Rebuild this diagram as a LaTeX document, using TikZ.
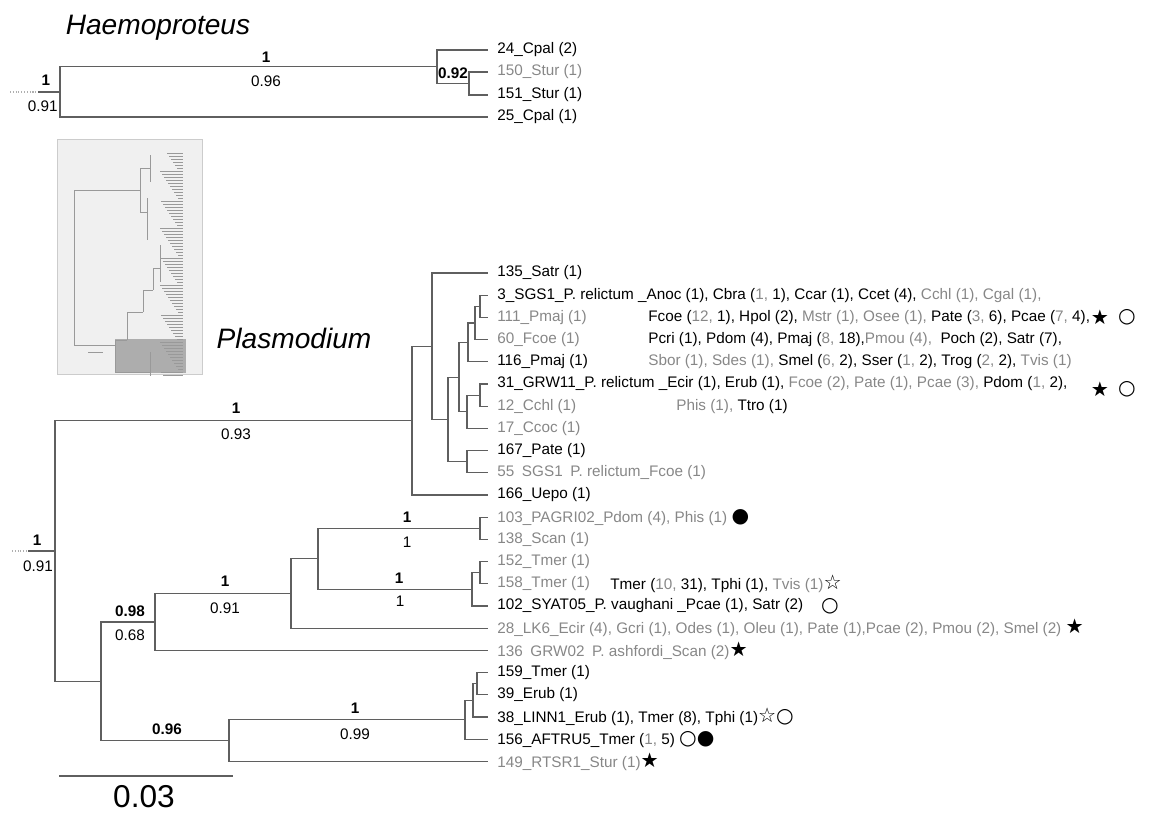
\documentclass[tikz,border=0pt]{standalone}
\usepackage{fontspec}
\setmainfont{Liberation Sans}
\newfontfamily\symfont{DejaVu Sans}
\usetikzlibrary{positioning}
\definecolor{branchgray}{RGB}{95,95,95}
\definecolor{tipgray}{RGB}{135,135,135}
\newcommand{\gtx}[1]{\textcolor{tipgray}{#1}}
\newcommand{\mksym}[1]{{\symfont\fontsize{11.5}{10}\selectfont #1}}

\begin{document}
\begin{tikzpicture}[x=0.02cm, y=-0.02cm,
    branch/.style={draw=branchgray, line width=0.6pt},
    stub/.style={draw=branchgray!50, line width=0.6pt, densely dotted},
    tip/.style={anchor=west, inner sep=0pt, font=\fontsize{8.7}{10}\selectfont},
    supp/.style={inner sep=0pt, font=\fontsize{8.7}{10}\selectfont\bfseries},
    post/.style={inner sep=0pt, font=\fontsize{8.7}{10}\selectfont},
    genus/.style={inner sep=0pt, font=\fontsize{16}{18}\selectfont\itshape},
    symb/.style={inner sep=0pt, font=\symfont\fontsize{11.5}{10}\selectfont},
    mini/.style={draw=black!40, line width=0.2pt}]
    \useasboundingbox (0,0) rectangle (1150,816);

    % Haemoproteus tree
    \node[genus] (haem) at (158,28) {Haemoproteus};
    \coordinate (hstub) at (10,92);
    \coordinate (hstubend) at (38,92);
    \coordinate (hroot) at (60,92);
    \coordinate (hclade) at (437,66.5);
    \coordinate (hstur) at (469,83.5);
    \coordinate (t24) at (488,50);
    \coordinate (t150) at (488,72);
    \coordinate (t151) at (488,95);
    \coordinate (t25) at (488,117);
    \draw[stub] (hstub) -- (hstubend);
    \draw[branch] (hstubend) -- (hroot);
    \draw[branch] (hroot) |- (hclade) (hroot) |- (t25);
    \draw[branch] (hclade) |- (t24) (hclade) |- (hstur);
    \draw[branch] (hstur) |- (t150) (hstur) |- (t151);
    \node[tip, right=0.18cm of t24] (l24) {24\_Cpal (2)};
    \node[tip, right=0.18cm of t150] (l150) {\gtx{150\_Stur (1)}};
    \node[tip, right=0.18cm of t151] (l151) {151\_Stur (1)};
    \node[tip, right=0.18cm of t25] (l25) {25\_Cpal (1)};
    \node[supp] (s1) at (266,57) {1};
    \node[post] (p1) at (266,81) {0.96};
    \node[supp] (s2) at (46,80) {1};
    \node[post, anchor=east] (p2) at (58,106) {0.91};
    \node[supp] (s3) at (453,73) {0.92};

    % overview thumbnail
    \draw[draw=black!20, fill=black!6] (57,139) rectangle (202,374);
    \fill[black!32] (115,339) rectangle (186,373);
    \draw[mini] (74,190) -- (74,345) (74,190) -- (140,190) (140,168) -- (140,212);
    \draw[mini] (140,168) -- (150,168) (150,155) -- (150,182) (140,212) -- (147,212) (147,198) -- (147,240);
    \draw[mini] (74,345) -- (115,345) (115,340) -- (115,372) (115,340) -- (127,340) (127,312) -- (127,340);
    \draw[mini] (127,312) -- (143,312) (143,290) -- (143,312) (143,290) -- (153,290) (153,268) -- (153,290);
    \draw[mini] (153,268) -- (160,268) (160,245) -- (160,282) (115,372) -- (150,372) (150,352) -- (150,376);
    \foreach \yy in {153,156,...,375} {
      \pgfmathsetmacro\xx{160+mod(\yy*7,19)}
      \draw[mini] (\xx,\yy) -- (183,\yy);
    }
    \draw[mini] (88,352) -- (103,352);

    % Plasmodium tree
    \node[genus] (plas) at (294,338) {Plasmodium};
    \coordinate (pstub) at (12,551);
    \coordinate (pstubend) at (28,551);
    \coordinate (proot) at (55,551);
    \coordinate (prel) at (412,420.6);
    \coordinate (psatr) at (432,346.2);
    \coordinate (pmid) at (448,419.4);
    \coordinate (pgrp) at (459,377.1);
    \coordinate (pc) at (468,342.4);
    \coordinate (pb) at (475,323);
    \coordinate (pa) at (480,306.3);
    \coordinate (pg2) at (467,411.8);
    \coordinate (pg2a) at (480,395.1);
    \coordinate (pf) at (467,461.7);
    \coordinate (plow) at (101,681.3);
    \coordinate (pgroup) at (155,622);
    \coordinate (ps) at (291,593.5);
    \coordinate (pr) at (318,558.8);
    \coordinate (pp) at (480,528.3);
    \coordinate (pq) at (472,589.4);
    \coordinate (pqa) at (480,572.7);
    \coordinate (pu) at (229,740.6);
    \coordinate (pu2) at (465,719.8);
    \coordinate (pu3) at (473,700.4);
    \coordinate (pu4) at (477,683.7);
    \coordinate (t135) at (488,273);
    \coordinate (t3) at (488,295.2);
    \coordinate (t111) at (488,317.4);
    \coordinate (t60) at (488,339.6);
    \coordinate (t116) at (488,361.8);
    \coordinate (t31) at (488,384);
    \coordinate (t12) at (488,406.2);
    \coordinate (t17) at (488,428.4);
    \coordinate (t167) at (488,450.6);
    \coordinate (t55) at (488,472.8);
    \coordinate (t166) at (488,495);
    \coordinate (t103) at (488,517.2);
    \coordinate (t138) at (488,539.4);
    \coordinate (t152) at (488,561.6);
    \coordinate (t158) at (488,583.8);
    \coordinate (t102) at (488,606);
    \coordinate (t28) at (488,628.2);
    \coordinate (t136) at (488,650.4);
    \coordinate (t159) at (488,672.6);
    \coordinate (t39) at (488,694.8);
    \coordinate (t38) at (488,717);
    \coordinate (t156) at (488,739.2);
    \coordinate (t149) at (488,761.4);

    % Branches
    \draw[stub] (pstub) -- (pstubend);
    \draw[branch] (pstubend) -- (proot);
    \draw[branch] (proot) |- (prel) (proot) |- (plow);
    \draw[branch] (prel) |- (psatr) (prel) |- (t166);
    \draw[branch] (psatr) |- (t135) (psatr) |- (pmid);
    \draw[branch] (pmid) |- (pgrp) (pmid) |- (pf);
    \draw[branch] (pgrp) |- (pc) (pgrp) |- (pg2);
    \draw[branch] (pc) |- (pb) (pc) |- (t116);
    \draw[branch] (pb) |- (pa) (pb) |- (t60);
    \draw[branch] (pa) |- (t3) (pa) |- (t111);
    \draw[branch] (pg2) |- (pg2a) (pg2) |- (t17);
    \draw[branch] (pg2a) |- (t31) (pg2a) |- (t12);
    \draw[branch] (pf) |- (t167) (pf) |- (t55);
    \draw[branch] (plow) |- (pgroup) (plow) |- (pu);
    \draw[branch] (pgroup) |- (ps) (pgroup) |- (t136);
    \draw[branch] (ps) |- (pr) (ps) |- (t28);
    \draw[branch] (pr) |- (pp) (pr) |- (pq);
    \draw[branch] (pp) |- (t103) (pp) |- (t138);
    \draw[branch] (pq) |- (pqa) (pq) |- (t102);
    \draw[branch] (pqa) |- (t152) (pqa) |- (t158);
    \draw[branch] (pu) |- (pu2) (pu) |- (t149);
    \draw[branch] (pu2) |- (pu3) (pu2) |- (t156);
    \draw[branch] (pu3) |- (pu4) (pu3) |- (t38);
    \draw[branch] (pu4) |- (t159) (pu4) |- (t39);

    % Support values
    \node[supp] (s4) at (236,408) {1};
    \node[post] (p4) at (236,434) {0.93};
    \node[supp] (s5) at (37,540) {1};
    \node[post] (p5) at (38,566) {0.91};
    \node[supp] (s6) at (130,611) {0.98};
    \node[post] (p6) at (130,635) {0.68};
    \node[supp] (s7) at (225,581) {1};
    \node[post] (p7) at (225,608) {0.91};
    \node[supp] (s8) at (407,517) {1};
    \node[post] (p8) at (407,542) {1};
    \node[supp] (s9) at (399,578) {1};
    \node[post] (p9) at (400,601) {1};
    \node[supp] (s10) at (167,729) {0.96};
    \node[supp] (s11) at (355,708) {1};
    \node[post] (p11) at (355,734) {0.99};

    % Tip labels
    \node[tip, right=0.18cm of t135] (l135) {135\_Satr (1)};
    \node[tip, right=0.18cm of t3] (l3) {3\_SGS1\_P. relictum \_Anoc (1), Cbra (\gtx{1,} 1), Ccar (1), Ccet (4), \gtx{Cchl (1), Cgal (1),}};
    \node[tip, right=0.18cm of t111] (l111) {\gtx{111\_Pmaj (1)}};
    \node[tip] (c111) at (648,317.4) {Fcoe (\gtx{12,} 1), Hpol (2), \gtx{Mstr (1), Osee (1),} Pate (\gtx{3,} 6), Pcae (\gtx{7,} 4),};
    \node[tip, right=0.18cm of t60] (l60) {\gtx{60\_Fcoe (1)}};
    \node[tip] (c60) at (648,339.6) {Pcri (1), Pdom (4), Pmaj (\gtx{8,} 18),\gtx{Pmou (4),}\ \ Poch (2), Satr (7),};
    \node[tip, right=0.18cm of t116] (l116) {116\_Pmaj (1)};
    \node[tip] (c116) at (648,361.8) {\gtx{Sbor (1), Sdes (1),} Smel (\gtx{6,} 2), Sser (\gtx{1,} 2), Trog (\gtx{2,} 2), \gtx{Tvis (1)}};
    \node[tip, right=0.18cm of t31] (l31) {31\_GRW11\_P. relictum \_Ecir (1), Erub (1), \gtx{Fcoe (2), Pate (1), Pcae (3),} Pdom (\gtx{1,} 2),};
    \node[tip, right=0.18cm of t12] (l12) {\gtx{12\_Cchl (1)}};
    \node[tip] (c12) at (676,406.2) {\gtx{Phis (1),} Ttro (1)};
    \node[tip, right=0.18cm of t17] (l17) {\gtx{17\_Ccoc (1)}};
    \node[tip, right=0.18cm of t167] (l167) {167\_Pate (1)};
    \node[tip, right=0.18cm of t55] (l55) {\gtx{55\enspace SGS1\enspace P. relictum\_Fcoe (1)}};
    \node[tip, right=0.18cm of t166] (l166) {166\_Uepo (1)};
    \node[tip, right=0.18cm of t103] (l103) {\gtx{103\_PAGRI02\_Pdom (4), Phis (1)} \mksym{●}};
    \node[tip, right=0.18cm of t138] (l138) {\gtx{138\_Scan (1)}};
    \node[tip, right=0.18cm of t152] (l152) {\gtx{152\_Tmer (1)}};
    \node[tip, right=0.18cm of t158] (l158) {\gtx{158\_Tmer (1)}};
    \node[tip] (c158) at (610,583.8) {Tmer (\gtx{10,} 31), Tphi (1), \gtx{Tvis (1)}\mksym{☆}};
    \node[tip, right=0.18cm of t102] (l102) {102\_SYAT05\_P. vaughani \_Pcae (1), Satr (2)};
    \node[tip, right=0.18cm of t28] (l28) {\gtx{28\_LK6\_Ecir (4), Gcri (1), Odes (1), Oleu (1), Pate (1),Pcae (2), Pmou (2), Smel (2)} \mksym{★}};
    \node[tip, right=0.18cm of t136] (l136) {\gtx{136\enspace GRW02\enspace P. ashfordi\_Scan (2)}\mksym{★}};
    \node[tip, right=0.18cm of t159] (l159) {159\_Tmer (1)};
    \node[tip, right=0.18cm of t39] (l39) {39\_Erub (1)};
    \node[tip, right=0.18cm of t38] (l38) {38\_LINN1\_Erub (1), Tmer (8), Tphi (1)\mksym{☆}\mksym{○}};
    \node[tip, right=0.18cm of t156] (l156) {156\_AFTRU5\_Tmer (\gtx{1,} 5) \mksym{○}\mksym{●}};
    \node[tip, right=0.18cm of t149] (l149) {\gtx{149\_RTSR1\_Stur (1)}\mksym{★}};

    % Markers
    \node[symb] (m111a) at (1100,317.4) {★};
    \node[symb] (m111b) at (1127,317.4) {○};
    \node[symb] (m31a) at (1100,389) {★};
    \node[symb] (m31b) at (1127,389) {○};
    \node[symb] (m102) at (830,606) {○};

    % Scale bar
    \coordinate (sbl) at (59,776);
    \coordinate (sbr) at (233,776);
    \draw[branch, line width=0.8pt] (sbl) -- (sbr);
    \node[inner sep=0pt, font=\fontsize{18}{20}\selectfont] (sblab) at (144,797) {0.03};
\end{tikzpicture}
\end{document}
